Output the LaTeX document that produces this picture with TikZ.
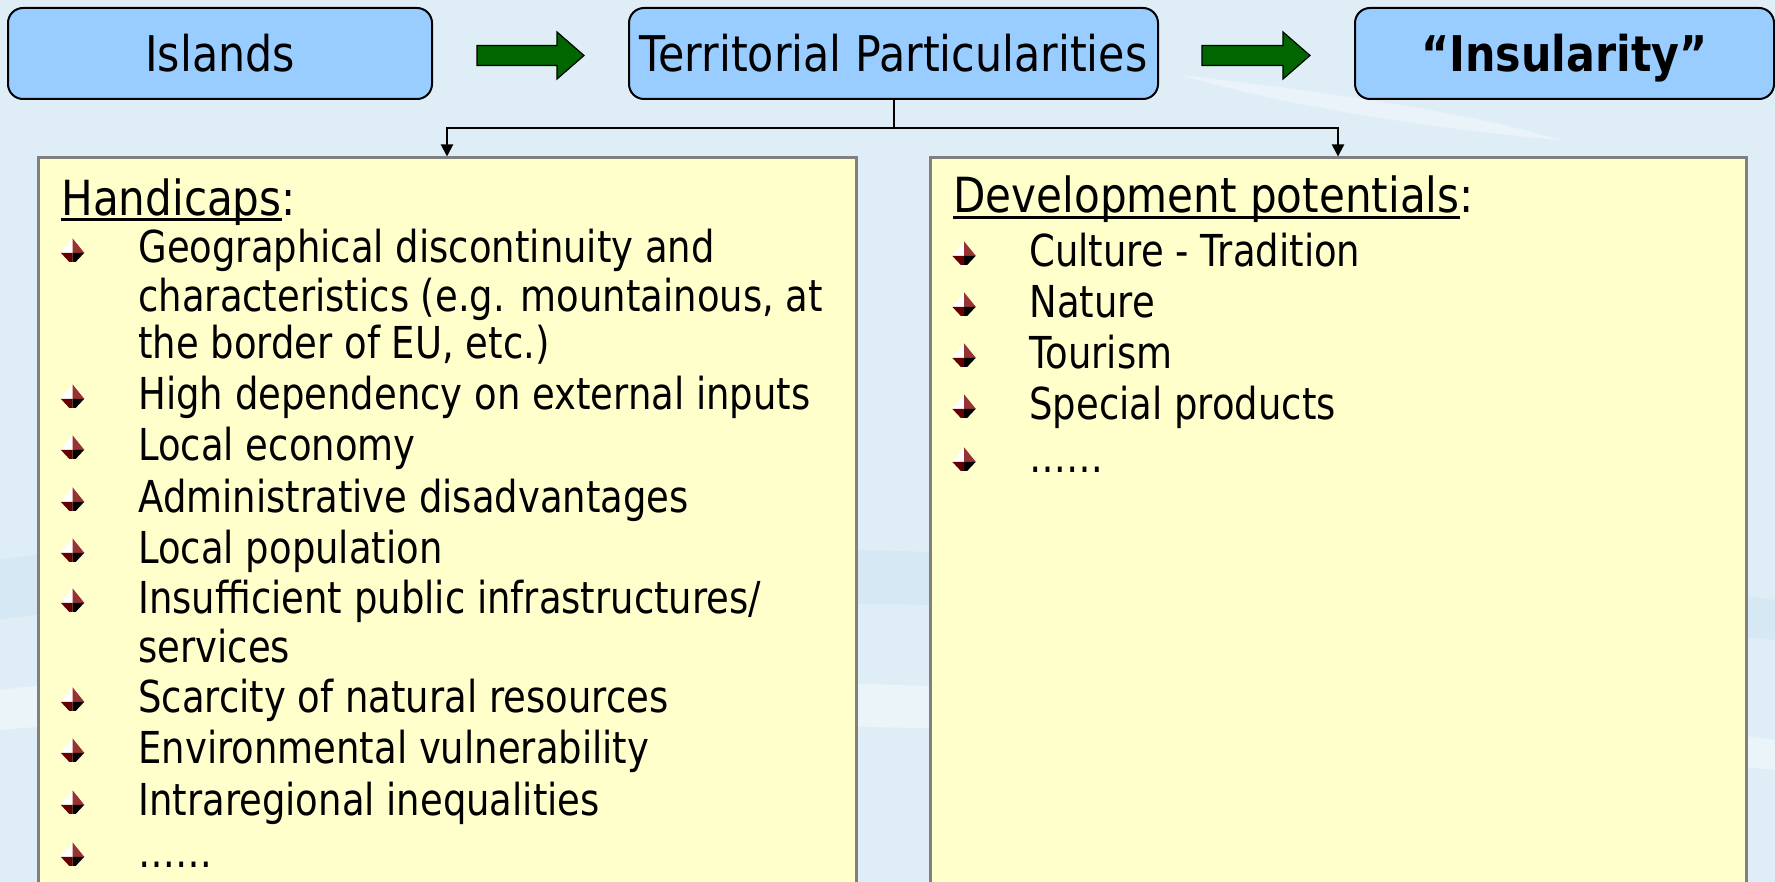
\documentclass[tikz,border=0pt]{standalone}
\usepackage{fontspec}
\setmainfont{DejaVu Sans}[FakeStretch=0.87]
\newfontfamily\itemfont{DejaVu Sans}[FakeStretch=0.84]
\usetikzlibrary{arrows.meta}
\definecolor{bgblue}{RGB}{223,238,246}
\definecolor{bgdark}{RGB}{208,229,243}
\definecolor{boxblue}{RGB}{153,204,255}
\definecolor{boxyellow}{RGB}{255,255,204}
\definecolor{boxgray}{RGB}{128,128,128}
\definecolor{arrgreen}{RGB}{0,102,0}
\definecolor{bulred}{RGB}{153,51,51}
\definecolor{bulmaroon}{RGB}{102,0,0}
\newcommand\myul[1]{\setbox0\hbox{#1}\rlap{\rule[-0.12em]{\wd0}{0.06em}}\box0}
\newcommand\bulletmark[2]{%
  \begin{scope}[shift={(#1,#2)}, scale=1.12]
    \fill[white] (0,-10.5) -- (-10.5,2.5) -- (0,2.5) -- cycle;
    \fill[bulred] (0,-10.5) -- (10.5,2.5) -- (0,2.5) -- cycle;
    \fill[bulmaroon] (-10.5,2.5) -- (-3,10.5) -- (0,10.5) -- (0,2.5) -- cycle;
    \fill[black] (10.5,2.5) -- (3,10.5) -- (0,10.5) -- (0,2.5) -- cycle;
  \end{scope}}
\tikzset{
  topbox/.style={draw=black, line width=1pt, fill=boxblue, rounded corners=7.5pt,
    inner sep=0pt, text height=18pt, text depth=0pt, minimum height=45.5pt,
    font=\fontsize{24.6}{25}\selectfont},
  panel/.style={draw=boxgray, line width=1.5pt, fill=boxyellow, inner sep=0pt,
    minimum height=371pt},
  txtline/.style={anchor=base west, inner sep=0pt, font=\itemfont\fontsize{22}{24}\selectfont},
  headline/.style={anchor=base west, inner sep=0pt, font=\fontsize{24.2}{25}\selectfont},
  conn/.style={line width=1pt, -{Triangle[length=6pt,width=6pt]}},
  blockarrow/.style={fill=arrgreen, draw=black, line width=0.6pt}
}
\begin{document}
\begin{tikzpicture}[x=0.5pt, y=-0.5pt]
\useasboundingbox (0,0) rectangle (1775,882);
\clip (0,0) rectangle (1775,882);
% background
\fill[bgblue] (0,0) rectangle (1775,882);
\fill[white, opacity=0.35] (1180,75) .. controls (1350,95) and (1480,115) .. (1560,140)
  .. controls (1450,130) and (1300,110) .. (1180,75) -- cycle;
\fill[bgdark, opacity=0.6] (0,560) .. controls (200,520) and (1500,560) .. (1775,600)
  -- (1775,640) .. controls (1500,610) and (200,580) .. (0,620) -- cycle;
\fill[white, opacity=0.4] (0,690) .. controls (300,650) and (1500,700) .. (1775,740)
  -- (1775,770) .. controls (1500,740) and (300,700) .. (0,730) -- cycle;
% top boxes
\node[topbox, minimum width=212pt] (isl) at (220,53.5) {Islands};
\node[topbox, minimum width=264.5pt] (terr) at (893.5,53.5) {Territorial Particularities};
\node[topbox, minimum width=209.5pt, font=\bfseries\fontsize{24.6}{25}\selectfont] (ins) at (1564.5,53.5) {“Insularity”};
% green block arrows
\filldraw[blockarrow] (477,45.5) -- (557,45.5) -- (557,32) -- (584,55.5) -- (557,79) -- (557,65.5) -- (477,65.5) -- cycle;
\filldraw[blockarrow] (1202,45.5) -- (1283,45.5) -- (1283,32) -- (1310,55.5) -- (1283,79) -- (1283,65.5) -- (1202,65.5) -- cycle;
% panels
\node[panel, minimum width=409pt] (hand) at (447,529) {};
\node[panel, minimum width=408pt] (dev) at (1338,529) {};
% connectors
\coordinate (split) at (893.5,128);
\draw[line width=1pt] (terr.south) -- (split);
\draw[conn] (split) -| (hand.north);
\draw[conn] (split) -| (dev.north);
% left panel text
\node[headline] (h0) at (61,215) {\myul{Handicaps}:};
\node[txtline] (h1) at (138,263) {Geographical discontinuity and};
\node[txtline] (h2) at (138,311) {characteristics (e.g. mountainous, at};
\node[txtline] (h3) at (138,358) {the border of EU, etc.)};
\node[txtline] (h4) at (138,409) {High dependency on external inputs};
\node[txtline] (h5) at (138,460) {Local economy};
\node[txtline] (h6) at (138,512) {Administrative disadvantages};
\node[txtline] (h7) at (138,563) {Local population};
\node[txtline] (h8) at (138,613) {Insufficient public infrastructures/};
\node[txtline] (h9) at (138,662) {services};
\node[txtline] (h10) at (138,712) {Scarcity of natural resources};
\node[txtline] (h11) at (138,763) {Environmental vulnerability};
\node[txtline] (h12) at (138,815) {Intraregional inequalities};
\node[txtline] (h13) at (138,867) {……};
\foreach \y in {263,409,460,512,563,613,712,763,815,867}
  {\bulletmark{72.5}{\y-13}}
% right panel text
\node[headline] (d0) at (953,213) {\myul{Development potentials}:};
\node[txtline] (d1) at (1029,266) {Culture - Tradition};
\node[txtline] (d2) at (1029,317) {Nature};
\node[txtline] (d3) at (1029,368) {Tourism};
\node[txtline] (d4) at (1029,419) {Special products};
\node[txtline] (d5) at (1029,472) {……};
\foreach \y in {266,317,368,419,472}
  {\bulletmark{964}{\y-13}}
\end{tikzpicture}
\end{document}
